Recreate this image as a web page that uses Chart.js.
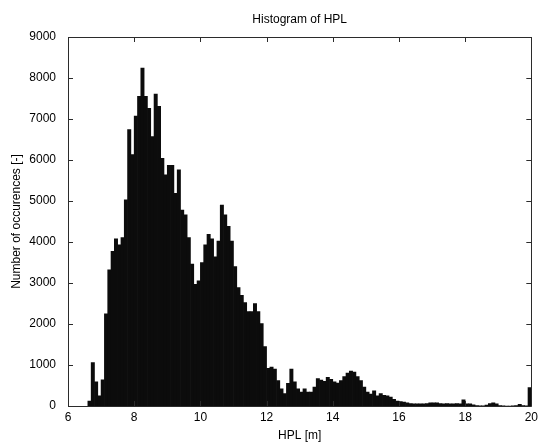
<!DOCTYPE html>
<html>
<head>
<meta charset="utf-8">
<script src="https://cdn.jsdelivr.net/npm/chart.js@4/dist/chart.umd.min.js"></script>
<style>
  html, body { margin: 0; padding: 0; background: #fff; }
  #wrap { width: 542px; height: 443px; position: relative; }
</style>
</head>
<body>
<div id="wrap"><canvas id="myChart"></canvas></div>
<script>
// histogram bins: 0.1 m wide, first bin starts at 6.6 m
var binStart = 6.6;
var binWidth = 0.1;
var conteos = [
  120, 1060, 590, 250, 640, 2250, 3320, 3770, 4080, 3930,
  4110, 5030, 6740, 6130, 7070, 7550, 8240, 7550, 7260, 6570,
  7610, 7310, 6040, 5640, 5870, 5870, 5190, 5760, 4780, 4660,
  4110, 3460, 2970, 3050, 3500, 3930, 4190, 4080, 3640, 4020,
  4900, 4660, 4380, 4020, 3400, 2890, 2700, 2520, 2300, 2300,
  2500, 2300, 2010, 1450, 920, 950, 900, 620, 420, 300,
  550, 900, 590, 420, 340, 420, 340, 340, 460, 670,
  630, 600, 700, 650, 590, 560, 620, 720, 800, 850,
  830, 720, 620, 460, 340, 290, 370, 250, 300, 260,
  250, 220, 160, 120, 110, 95, 75, 60, 55, 55,
  50, 55, 60, 75, 80, 75, 60, 55, 60, 55,
  50, 60, 55, 150, 55, 50, 30, 10, 5, 5,
  20, 60, 80, 50, 10, 5, 0, 0, 5, 10,
  40, 10, 5, 450
];
var xTicks = [6, 8, 10, 12, 14, 16, 18, 20];
var yTicks = [0, 1000, 2000, 3000, 4000, 5000, 6000, 7000, 8000, 9000];

var centros = [];
for (let i = 0; i < conteos.length; i++) {
  centros.push(+(binStart + binWidth * (i + 0.5)).toFixed(2));
}
var puntos = [];
for (let i = 0; i < conteos.length; i++) {
  puntos.push({x: centros[i], y: conteos[i]});
}

var fuente = "'Liberation Sans', Arial, sans-serif";

// matlab style box, inward ticks on all four sides, title over the axes
var cajaMatlab = {
  id: 'cajaMatlab',
  afterDraw(chart) {
    var ctx = chart.ctx;
    var a = chart.chartArea;
    var sx = chart.scales.x;
    var sy = chart.scales.y;
    ctx.save();
    ctx.strokeStyle = '#2b2b2b';
    ctx.lineWidth = 1;
    ctx.beginPath();
    ctx.rect(Math.round(a.left) + 0.5, Math.round(a.top) + 0.5, Math.round(a.right - a.left), Math.round(a.bottom - a.top));
    xTicks.forEach(function (v) {
      var px = Math.round(sx.getPixelForValue(v)) + 0.5;
      ctx.moveTo(px, a.bottom); ctx.lineTo(px, a.bottom - 5);
      ctx.moveTo(px, a.top); ctx.lineTo(px, a.top + 5);
    });
    yTicks.forEach(function (v) {
      var py = Math.round(sy.getPixelForValue(v)) + 0.5;
      ctx.moveTo(a.left, py); ctx.lineTo(a.left + 5, py);
      ctx.moveTo(a.right, py); ctx.lineTo(a.right - 5, py);
    });
    ctx.stroke();
    ctx.fillStyle = '#000';
    ctx.font = "12px " + fuente;
    ctx.textAlign = 'center';
    ctx.textBaseline = 'middle';
    ctx.fillText('Histogram of HPL', (a.left + a.right) / 2, 20);
    ctx.restore();
  }
};

var ctx = document.getElementById('myChart').getContext('2d');
var chart = new Chart(ctx, {
  type: 'bar',
  data: {
    datasets: [{
      label: 'HPL',
      data: puntos,
      backgroundColor: '#0c0c0c',
      borderColor: '#0c0c0c',
      borderWidth: 0,
      barPercentage: 1,
      categoryPercentage: 1
    }]
  },
  options: {
    responsive: true,
    maintainAspectRatio: false,
    animation: false,
    layout: { padding: { top: 37, right: 7, left: 0, bottom: 0 } },
    plugins: {
      legend: { display: false },
      tooltip: { enabled: false },
      title: { display: false }
    },
    scales: {
      x: {
        type: 'linear',
        offset: false,
        min: 6,
        max: 20,
        afterBuildTicks: function (s) { s.ticks = xTicks.map(function (v) { return {value: v}; }); },
        afterFit: function (s) { s.height = 37; },
        grid: { display: false, drawTicks: false },
        border: { display: false },
        ticks: { color: '#000', padding: 4, maxRotation: 0, font: { family: fuente, size: 12 },
          callback: function (v) { return String(v); } },
        title: { display: true, text: 'HPL [m]', color: '#000', padding: { top: 0, bottom: 0 }, font: { family: fuente, size: 12 } }
      },
      y: {
        min: 0,
        max: 9000,
        afterBuildTicks: function (s) { s.ticks = yTicks.map(function (v) { return {value: v}; }); },
        afterFit: function (s) { s.width = 68; },
        grid: { display: false, drawTicks: false },
        border: { display: false },
        ticks: { color: '#000', padding: 12, font: { family: fuente, size: 12 },
          callback: function (v) { return String(v); } },
        title: { display: true, text: 'Number of occurences [-]', color: '#000', padding: { top: 9, bottom: 0 }, font: { family: fuente, size: 12 } }
      }
    }
  },
  plugins: [cajaMatlab]
});
</script>
</body>
</html>
